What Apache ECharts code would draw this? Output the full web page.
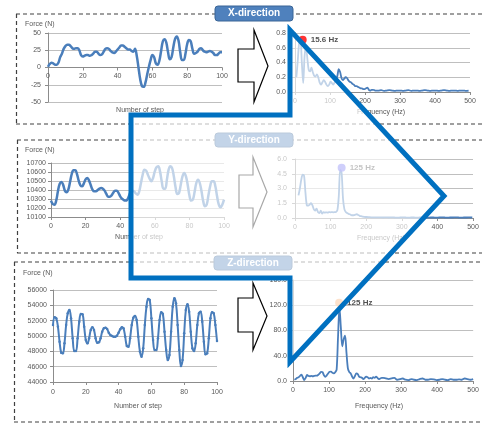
<!DOCTYPE html>
<html><head><meta charset="utf-8">
<script src="https://cdn.jsdelivr.net/npm/echarts@6/dist/echarts.min.js"></script>
<style>html,body{margin:0;padding:0;background:#fff}#c{width:482px;height:424px}</style>
</head><body><div id="c"></div>
<script>
// ---------- DATA ----------
const xDirForce = [1,5,7,6,4,4,7,15,20,27, 31,33,33,31,28,27,28,28,25,18, 16,17,18,18,17,18,20,23,23,20,
  18,19,23,27,28,27,24,22,21,23, 26,29,32,32,30,28,26,26,24,23, 27,17,0,-17,-27,-28,-22,-10,1,11,
  18,15,6,4,10,24,38,41,36,22, 12,15,29,41,45,39,22,11,11,20, 34,40,38,27,20,21,23,27,28,25,
  23,22,23,24,23,21,18,18,20,22, 22];
const yDirForce = [10282,10244,10237,10282,10385,10467,10489,10459,10393,10374,
  10404,10489,10578,10619,10619,10578,10504,10452,10441,10474,
  10518,10533,10504,10452,10404,10385,10385,10400,10415,10422,
  10415,10393,10356,10326,10326,10341,10370,10393,10393,10367,
  10330,10304,10289,10282,10290,10330,10380,10393,10385,10363,
  10348,10385,10478,10570,10626,10615,10570,10526,10496,10533,
  10607,10652,10663,10607,10496,10415,10415,10515,10626,10663,
  10644,10552,10430,10356,10367,10459,10552,10589,10552,10459,
  10341,10282,10293,10378,10478,10515,10478,10385,10274,10219,
  10237,10341,10441,10496,10496,10441,10330,10237,10207,10237, 10293];
const zDirForce = [51435,52435,52304,51217,49261,47826,47739,49043,51435,52957,
  53391,52304,49696,48043,48043,49696,51870,52870,52826,51217,
  49478,49043,49696,50783,51130,50783,49696,49130,49174,49696,
  50565,51000,51087,50913,50435,50130,50000,49913,49913,50043,
  50435,50870,51130,51000,49913,48696,48609,49696,51435,52391,
  52609,52087,49913,47957,47304,48391,51435,53826,54826,54696,
  52304,49478,48174,48174,49696,52087,53087,52870,50565,48174,
  46870,47522,50565,53826,54913,54261,51435,48174,46087,46870,
  50348,53391,54130,53174,50565,48391,48043,49043,51435,52957,
  53174,51870,49261,47609,47739,49696,52304,53087,52957,51435, 49348];

const xFreqHz = [3.9,7.8,11.7,15.6,19.5,23.4,27.3,31.2,35.2,39.1, 43,46.9,50.8,54.7,58.6,62.5,66.4,70.3,74.2,78.1,
  82,85.9,89.8,93.8,97.7,101.6,105.5,109.4,113.3,117.2, 121.1,125,128.9,132.8,136.7,140.6,144.5,148.4,152.3,156.3,
  160.2,164.1,168,171.9,175.8,179.7,183.6,187.5,191.4,195.3, 199.2,203.1,207,210.9,214.8,218.8,222.7,226.6,230.5,
  238.3,246.1,253.9,261.7,269.5,277.3,285.2,293,300.8,308.6, 316.4,324.2,332,339.8,347.7,355.5,363.3,371.1,378.9,386.7,
  394.5,402.3,410.2,418,425.8,433.6,441.4,449.2,457,464.8, 472.7,480.5,488.3,496.1];
const xFreqAmp = [0.20,0.42,0.66,0.71,0.40,0.12,0.48,0.63,0.46,0.30, 0.28,0.33,0.27,0.22,0.21,0.24,0.20,0.13,0.10,0.13,
  0.16,0.14,0.10,0.08,0.10,0.14,0.12,0.10,0.13,0.16, 0.22,0.31,0.27,0.19,0.16,0.18,0.20,0.19,0.16,0.14,
  0.13,0.11,0.10,0.08,0.08,0.07,0.06,0.05,0.05,0.04, 0.04,0.05,0.06,0.03,0.02,0.03,0.03,0.025,0.02,
  0.02,0.025,0.015,0.02,0.025,0.02,0.015,0.02,0.02,0.015, 0.02,0.025,0.015,0.02,0.02,0.015,0.02,0.025,0.02,0.015,
  0.02,0.02,0.015,0.02,0.025,0.02,0.015,0.02,0.02,0.015, 0.02,0.02,0.015,0.02];

const yFreqHz = [9.8,13.7,17.6,21.5,25.4,29.3,33.2,37.1,41,44.9, 48.8,52.7,56.6,60.5,64.5,68.4,72.3,76.2,80.1,84,
  87.9,91.8,95.7,99.6,103.5,107.4,111.3,115.2,119.1,123, 126.9,130.9,134.8,138.7,142.6,146.5,150.4,154.3,158.2,162.1,
  166,169.9,173.8,177.7,181.6,185.5,189.5,193.4,197.3,201.2,
  209,216.8,224.6,232.4,240.2,248,255.9,263.7,271.5,279.3, 287.1,294.9,302.7,310.5,318.4,326.2,334,341.8,349.6,357.4,
  365.2,373,380.9,388.7,396.5,404.3,412.1,419.9,427.7,435.5, 443.4,451.2,459,466.8,474.6,482.4,490.2,498];
const yFreqAmp = [2.3,3.0,3.9,4.4,4.3,2.6,1.3,1.25,1.35,1.5, 1.3,0.9,0.75,0.95,0.6,0.5,0.75,0.45,0.6,0.55,
  0.58,0.55,0.6,0.58,0.6,0.58,0.6,0.62,0.8,2.2, 4.9,4.6,2.0,0.9,0.6,0.5,0.42,0.38,0.3,0.28,
  0.3,0.35,0.38,0.3,0.22,0.18,0.15,0.12,0.1,0.1,
  0.08,0.07,0.06,0.07,0.06,0.05,0.06,0.05,0.06,0.05, 0.04,0.05,0.06,0.05,0.04,0.05,0.05,0.04,0.05,0.06,
  0.05,0.04,0.05,0.05,0.04,0.05,0.06,0.05,0.04,0.05, 0.05,0.06,0.05,0.04,0.05,0.05,0.06,0.05];

const zFreqHz = [3.9,7.8,11.7,15.6,19.5,23.4,27.3,31.2,35.2,39.1, 43,46.9,50.8,54.7,58.6,62.5,66.4,70.3,74.2,78.1,
  82,85.9,89.8,93.8,97.7,101.6,105.5,109.4,113.3,117.2, 121.1,125,128.9,132.8,136.7,140.6,144.5,148.4,152.3,156.3,
  160.2,164.1,168,171.9,175.8,179.7,183.6,187.5,191.4,195.3, 199.2,203.1,207,210.9,214.8,218.8,222.7,226.6,230.5,234.4,
  238.3,242.2,246.1,250, 257.8,265.6,273.4,281.3,289.1,296.9,
  304.7,312.5,320.3,328.1,335.9,343.8,351.6,359.4,367.2,375, 382.8,390.6,398.4,406.3,414.1,421.9,429.7,437.5,445.3,453.1,
  460.9,468.8,476.6,484.4,492.2,500];
const zFreqAmp = [2,3,5,6,8,10,6,1.5,5,9.5, 8,7.5,8,7.5,8,8.5,8.5,10,12,14.5,
  14,9,6.5,9,12,14.5,15,13,12,14, 18,70,117,85,55,66,72,45,20,14,
  12,7,4,8,12,11,7,6,5,3, 5,7,6,4,5,4,6,5,7,5,
  3,4,5,5, 4,3,4,5,2,3,
  4,2,1.5,3,2,1.5,3,4,2,2, 3,2.5,1.5,2,3,2,1.5,3,2,2,
  2.5,2,4,3,2,3];

const xPeak = [22, 0.71];  const xPeakLabel = '15.6 Hz';
const yPeak = [131, 5.1];  const yPeakLabel = '125 Hz';
const zPeak = [128, 124];  const zPeakLabel = '125 Hz';

const panelTitles = ['X-direction', 'Y-direction', 'Z-direction'];
const yAxisTitle = 'Force (N)';
const stepAxisTitle = 'Number of step';
const freqAxisTitle = 'Frequency (Hz)';

// ---------- STYLE ----------
const FONT = "'Liberation Sans', Arial, sans-serif";
const LINE = '#4A7EBB';
const GRIDC = '#bfbfbf';
const AXC = '#8c8c8c';
const LBL = '#595959';

function xAx(g, min, max, interval, margin, offset) {
  return { gridIndex: g, type: 'value', min, max, interval, offset: offset || 0,
    axisLine: { show: true, onZero: false, lineStyle: { color: AXC, width: 1 } },
    axisTick: { show: true, length: 3, lineStyle: { color: AXC } },
    axisLabel: { fontSize: 7, color: LBL, margin, fontFamily: FONT },
    splitLine: { show: false } };
}
function yAx(g, min, max, interval, margin, fmt) {
  return { gridIndex: g, type: 'value', min, max, interval,
    axisLine: { show: true, onZero: false, lineStyle: { color: AXC, width: 1 } },
    axisTick: { show: true, length: 3, lineStyle: { color: AXC } },
    axisLabel: { fontSize: 7, color: LBL, margin, fontFamily: FONT, formatter: fmt || (v => String(v)) },
    splitLine: { show: true, lineStyle: { color: GRIDC, width: 1 } } };
}
const f1 = v => v.toFixed(1);
const pairs = (xs, ys) => xs.map((x, i) => [x, ys[i]]);
const steps = arr => arr.map((v, i) => [i, v]);

function lineSeries(i, data, width, smooth, sym) {
  return { type: 'line', xAxisIndex: i, yAxisIndex: i, data, smooth,
    showSymbol: !!sym, symbol: 'circle', symbolSize: sym || 0,
    itemStyle: { color: LINE }, lineStyle: { color: LINE, width }, z: 3, silent: true };
}
function dotSeries(i, pt, color, label) {
  return { type: 'scatter', xAxisIndex: i, yAxisIndex: i, data: [pt], symbolSize: 8,
    itemStyle: { color }, z: 4,
    label: { show: true, position: 'right', distance: 4, formatter: label,
      fontSize: 8, fontWeight: 'bold', color: '#262626', fontFamily: FONT } };
}

function dashed(x1, y1, x2, y2) {
  return { type: 'line', z: 1, shape: { x1, y1, x2, y2 },
    style: { stroke: '#404040', lineWidth: 1.2, lineDash: [4, 3] } };
}
function titleBox(x, y, w, h, text) {
  return [
    { type: 'rect', z: 10, shape: { x, y, width: w, height: h, r: 3 },
      style: { fill: '#4F81BD', stroke: '#3A6596', lineWidth: 1 } },
    { type: 'text', z: 11, x: x + w / 2, y: y + h / 2,
      style: { text, fill: '#fff', font: 'bold 10px ' + FONT, align: 'center', verticalAlign: 'middle' } }
  ];
}
function txt(x, y, text, align) {
  return { type: 'text', z: 5, x, y,
    style: { text, fill: LBL, font: '7px ' + FONT, align: align || 'left', verticalAlign: 'middle' } };
}
function hollowArrow(pts) {
  return { type: 'polygon', z: 6, shape: { points: pts },
    style: { fill: '#fff', stroke: '#000', lineWidth: 1.2, lineJoin: 'miter' } };
}

const graphic = [
  dashed(16, 14, 482, 14), dashed(16.5, 14, 16.5, 124), dashed(16, 124, 482, 124),
  dashed(17, 140, 482, 140), dashed(17.5, 140, 17.5, 253), dashed(17, 253, 482, 253),
  dashed(14, 262, 482, 262), dashed(14.5, 262, 14.5, 422), dashed(14, 422, 482, 422),
  ...titleBox(215, 6, 78, 15, panelTitles[0]),
  ...titleBox(215, 133, 78, 14, panelTitles[1]),
  ...titleBox(214, 256, 78, 14, panelTitles[2]),
  txt(25, 24, yAxisTitle), txt(25, 150, yAxisTitle), txt(23, 273, yAxisTitle),
  txt(140, 110, stepAxisTitle, 'center'), txt(139, 237, stepAxisTitle, 'center'), txt(138, 406, stepAxisTitle, 'center'),
  txt(381, 112, freqAxisTitle, 'center'), txt(381, 238, freqAxisTitle, 'center'), txt(379, 406, freqAxisTitle, 'center'),
  hollowArrow([[238,49],[254,49],[254,30],[268,66],[254,102],[254,82],[238,82]]),
  hollowArrow([[239,175],[253,175],[253,157],[267,192],[253,227],[253,208],[239,208]]),
  hollowArrow([[238,298],[253,298],[253,283],[267,316],[253,350],[253,332],[238,332]]),
  { type: 'polygon', z: 100, shape: { points: [[131,115],[290,115],[290,30],[444,196],[290,362],[290,278],[131,278]] },
    style: { fill: 'rgba(255,255,255,0.66)', stroke: '#0070C0', lineWidth: 5, lineJoin: 'miter' } }
];

const option = {
  animation: false,
  backgroundColor: '#fff',
  textStyle: { fontFamily: FONT },
  grid: [
    { left: 48, top: 33, width: 174, height: 69 },
    { left: 295, top: 33, width: 175, height: 59 },
    { left: 51, top: 163, width: 173, height: 54 },
    { left: 295, top: 159, width: 178, height: 59 },
    { left: 53, top: 290, width: 164, height: 92 },
    { left: 293, top: 280, width: 184, height: 101 }
  ],
  xAxis: [
    xAx(0, 0, 100, 20, 5, -34.5), xAx(1, 0, 500, 100, 6),
    xAx(2, 0, 100, 20, 6), xAx(3, 0, 500, 100, 6),
    xAx(4, 0, 100, 20, 7), xAx(5, 0, 500, 100, 6)
  ],
  yAxis: [
    yAx(0, -50, 50, 25, 7), yAx(1, 0, 0.8, 0.2, 9, f1),
    yAx(2, 10100, 10700, 100, 5), yAx(3, 0, 6, 1.5, 8, f1),
    yAx(4, 44000, 56000, 2000, 6), yAx(5, 0, 160, 40, 6, f1)
  ],
  series: [
    lineSeries(0, steps(xDirForce), 2.5, 0.4),
    lineSeries(1, pairs(xFreqHz, xFreqAmp), 1.8, 0.3),
    lineSeries(2, steps(yDirForce), 2.5, 0.4),
    lineSeries(3, pairs(yFreqHz, yFreqAmp), 1.8, 0.3),
    lineSeries(4, steps(zDirForce), 2, 0.4, 2.5),
    lineSeries(5, pairs(zFreqHz, zFreqAmp), 1.8, 0.3),
    dotSeries(1, xPeak, '#FF0000', xPeakLabel),
    dotSeries(3, yPeak, '#4F4FF0', yPeakLabel),
    dotSeries(5, zPeak, '#F79646', zPeakLabel)
  ],
  graphic
};
const chart = echarts.init(document.getElementById('c'), null, { renderer: 'canvas' });
chart.setOption(option);
</script>
</body></html>
